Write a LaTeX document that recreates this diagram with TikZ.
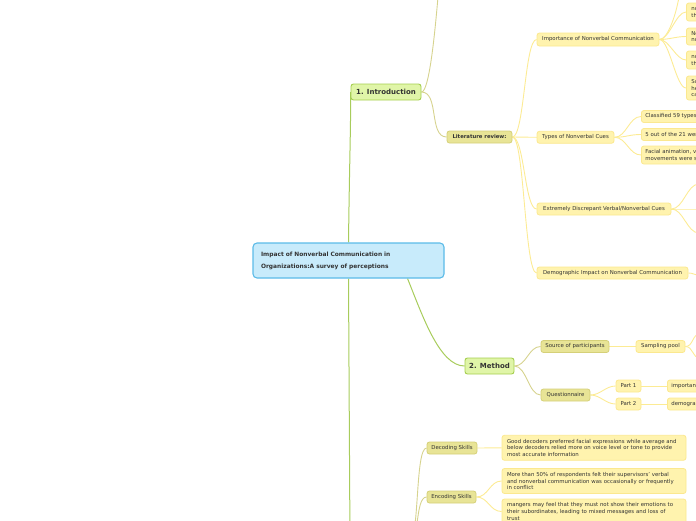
\documentclass[tikz,border=0pt]{standalone}
\usepackage{fontspec}
\setmainfont{DejaVu Sans}
\usetikzlibrary{backgrounds}
\definecolor{rootfill}{HTML}{C8EBFB}
\definecolor{rootline}{HTML}{5BBBE8}
\definecolor{lafill}{HTML}{E0F5A8}
\definecolor{laline}{HTML}{A5CE4E}
\definecolor{lbfill}{HTML}{E8E496}
\definecolor{lbline}{HTML}{D5D078}
\definecolor{lcfill}{HTML}{FFF3AE}
\definecolor{lcline}{HTML}{FBE88F}
\definecolor{conA}{HTML}{A8CC5C}
\definecolor{conB}{HTML}{D6D38E}
\definecolor{conC}{HTML}{FCEB94}
\definecolor{txt}{HTML}{333333}
\begin{document}
\begin{tikzpicture}[x=1pt,y=1pt,
  basebox/.style={draw, rounded corners=2.5pt, inner sep=0pt, text=txt,
    font=\fontsize{5.4}{6.7}\selectfont},
  rootbox/.style={basebox, fill=rootfill, draw=rootline, line width=1.1pt,
    rounded corners=4pt, align=left, text width=175pt, inner xsep=8pt,
    minimum height=35pt, font=\bfseries\fontsize{5.9}{12}\selectfont},
  boxA/.style={basebox, fill=lafill, draw=laline, line width=0.9pt,
    minimum height=16pt, font=\bfseries\fontsize{7}{8}\selectfont},
  boxB/.style={basebox, fill=lbfill, draw=lbline, line width=0.8pt, minimum height=12pt},
  boxC/.style={basebox, fill=lcfill, draw=lcline, line width=0.8pt, minimum height=12pt},
  multibox/.style={boxC, align=left, text width=174pt, inner xsep=5pt, minimum height=25pt},
  cutbox/.style={boxC, anchor=west, align=left, text width=140pt, inner xsep=5pt},
  conA/.style={draw=conA, line width=1pt},
  conB/.style={draw=conB, line width=0.9pt},
  conC/.style={draw=conC, line width=0.9pt},
  fan/.style={out=0, in=180, distance=12pt}
]
\useasboundingbox (0,0) rectangle (696,-520);
\clip (0,0) rectangle (696,-520);

% root
\node[rootbox] (root) at (348.5,-260.5) {Impact of Nonverbal Communication in\\Organizations:A survey of perceptions};

% level 1
\node[boxA, minimum width=70pt] (intro) at (386,-92) {1. Introduction};
\node[boxA, minimum width=49pt] (method) at (489.5,-366) {2. Method};

% introduction branch
\node[boxB, minimum width=65pt, font=\bfseries\fontsize{5.3}{6.5}\selectfont] (lit) at (479.5,-137) {Literature review:};
\node[boxC, minimum width=122pt, minimum height=13pt] (imp) at (598,-39.5) {Importance of Nonverbal Communication};
\node[boxC, minimum width=77pt] (types) at (575.5,-137.3) {Types of Nonverbal Cues};
\node[boxC, minimum width=134pt] (disc) at (604,-209) {Extremely Discrepant Verbal/Nonverbal Cues};
\node[boxC, minimum width=151pt] (demo) at (612.5,-273) {Demographic Impact on Nonverbal Communication};

\node[cutbox, minimum height=18pt] (na) at (686,-12) {nonverbal\\the};
\node[cutbox, minimum height=17pt] (nb) at (686,-36.5) {Nonverbal\\not};
\node[cutbox, minimum height=18pt] (nc) at (686,-60) {nonverbal\\the};
\node[cutbox, minimum height=24pt] (nd) at (686,-88) {Subordinates\\help\\can};

\node[cutbox, inner xsep=4pt] (cls) at (641,-116.5) {Classified 59 types};
\node[cutbox, inner xsep=4pt] (five) at (641,-134.5) {5 out of the 21 were};
\node[cutbox, inner xsep=4pt, minimum height=18pt] (fac) at (641,-155) {Facial animation, vocal\\movements were s};

\coordinate (iup) at (438,3);
\coordinate (impup) at (679,3);
\coordinate (da) at (699,-184);
\coordinate (db) at (699,-209);
\coordinate (dc) at (699,-233);
\coordinate (dm) at (699,-275);

% method branch
\node[boxB, minimum width=68pt] (src) at (575,-346.5) {Source of participants};
\node[boxB, minimum width=49pt] (quest) at (565.5,-395) {Questionnaire};
\node[boxC, minimum width=49pt] (samp) at (660.5,-346.5) {Sampling pool};
\node[boxC, minimum width=25pt] (pa) at (628.5,-386) {Part 1};
\node[boxC, minimum width=25pt] (pb) at (628.5,-404) {Part 2};
\node[cutbox, inner xsep=4pt] (impt) at (667,-386) {importance};
\node[cutbox, inner xsep=4pt] (demg) at (667,-404) {demographic};
\coordinate (sa) at (700,-334);
\coordinate (sb) at (700,-358);

% results branch (parent below the picture)
\coordinate (resw) at (350,-545);
\coordinate (rese) at (408,-545);
\node[boxB, minimum width=50pt] (dec) at (452,-448) {Decoding Skills};
\node[boxB, minimum width=49pt] (enc) at (451.5,-497) {Encoding Skills};
\node[multibox] (gd) at (594,-447.8) {Good decoders preferred facial expressions while average and\\below decoders relied more on voice level or tone to provide\\most accurate information};
\node[multibox] (mf) at (594,-481) {More than 50\% of respondents felt their supervisors' verbal\\and nonverbal communication was occasionally or frequently\\in conflict};
\node[multibox] (mg) at (594,-511.5) {mangers may feel that they must not show their emotions to\\their subordinates, leading to mixed messages and loss of\\trust};

\begin{scope}[on background layer]
  % root connectors
  \draw[conA] (root.north) .. controls (349.5,-160) and (351,-120) .. (intro.west);
  \draw[conA] (root.-17.5) to[out=-68, in=180, out distance=40pt, in distance=25pt] (method.west);
  \draw[conA] (root.south) -- (resw);
  % intro
  \draw[conB] (intro.east) .. controls (429,-92) and (434.5,-37) .. (iup);
  \draw[conB] (intro.east) to[out=0, in=180, distance=18pt] (lit.west);
  \foreach \t in {imp,types,disc,demo}
    \draw[conC] (lit.east) to[fan] (\t.west);
  \draw[conC] (imp.east) to[out=0, in=-100, out distance=8pt, in distance=20pt] (impup);
  \foreach \t in {na,nb,nc,nd}
    \draw[conC] (imp.east) to[out=0, in=180, distance=10pt] (\t.west);
  \foreach \t in {cls,five,fac}
    \draw[conC] (types.east) to[fan] (\t.west);
  \foreach \t in {da,db,dc}
    \draw[conC] (disc.east) to[fan] (\t);
  \draw[conC] (demo.east) to[out=0, in=180, distance=5pt] (dm);
  % method
  \draw[conB] (method.east) to[fan] (src.west);
  \draw[conB] (method.east) to[fan] (quest.west);
  \draw[conC] (src.east) -- (samp.west);
  \draw[conC] (samp.east) to[out=0, in=180, distance=8pt] (sa);
  \draw[conC] (samp.east) to[out=0, in=180, distance=8pt] (sb);
  \draw[conC] (quest.east) to[out=0, in=180, distance=10pt] (pa.west);
  \draw[conC] (quest.east) to[out=0, in=180, distance=10pt] (pb.west);
  \draw[conC] (pa.east) -- (impt.west);
  \draw[conC] (pb.east) -- (demg.west);
  % results
  \draw[conB] (rese) to[fan] (dec.west);
  \draw[conB] (rese) to[fan] (enc.west);
  \draw[conC] (dec.east) -- (gd.west);
  \draw[conC] (enc.east) to[fan] (mf.west);
  \draw[conC] (enc.east) to[fan] (mg.west);
\end{scope}
\end{tikzpicture}
\end{document}
